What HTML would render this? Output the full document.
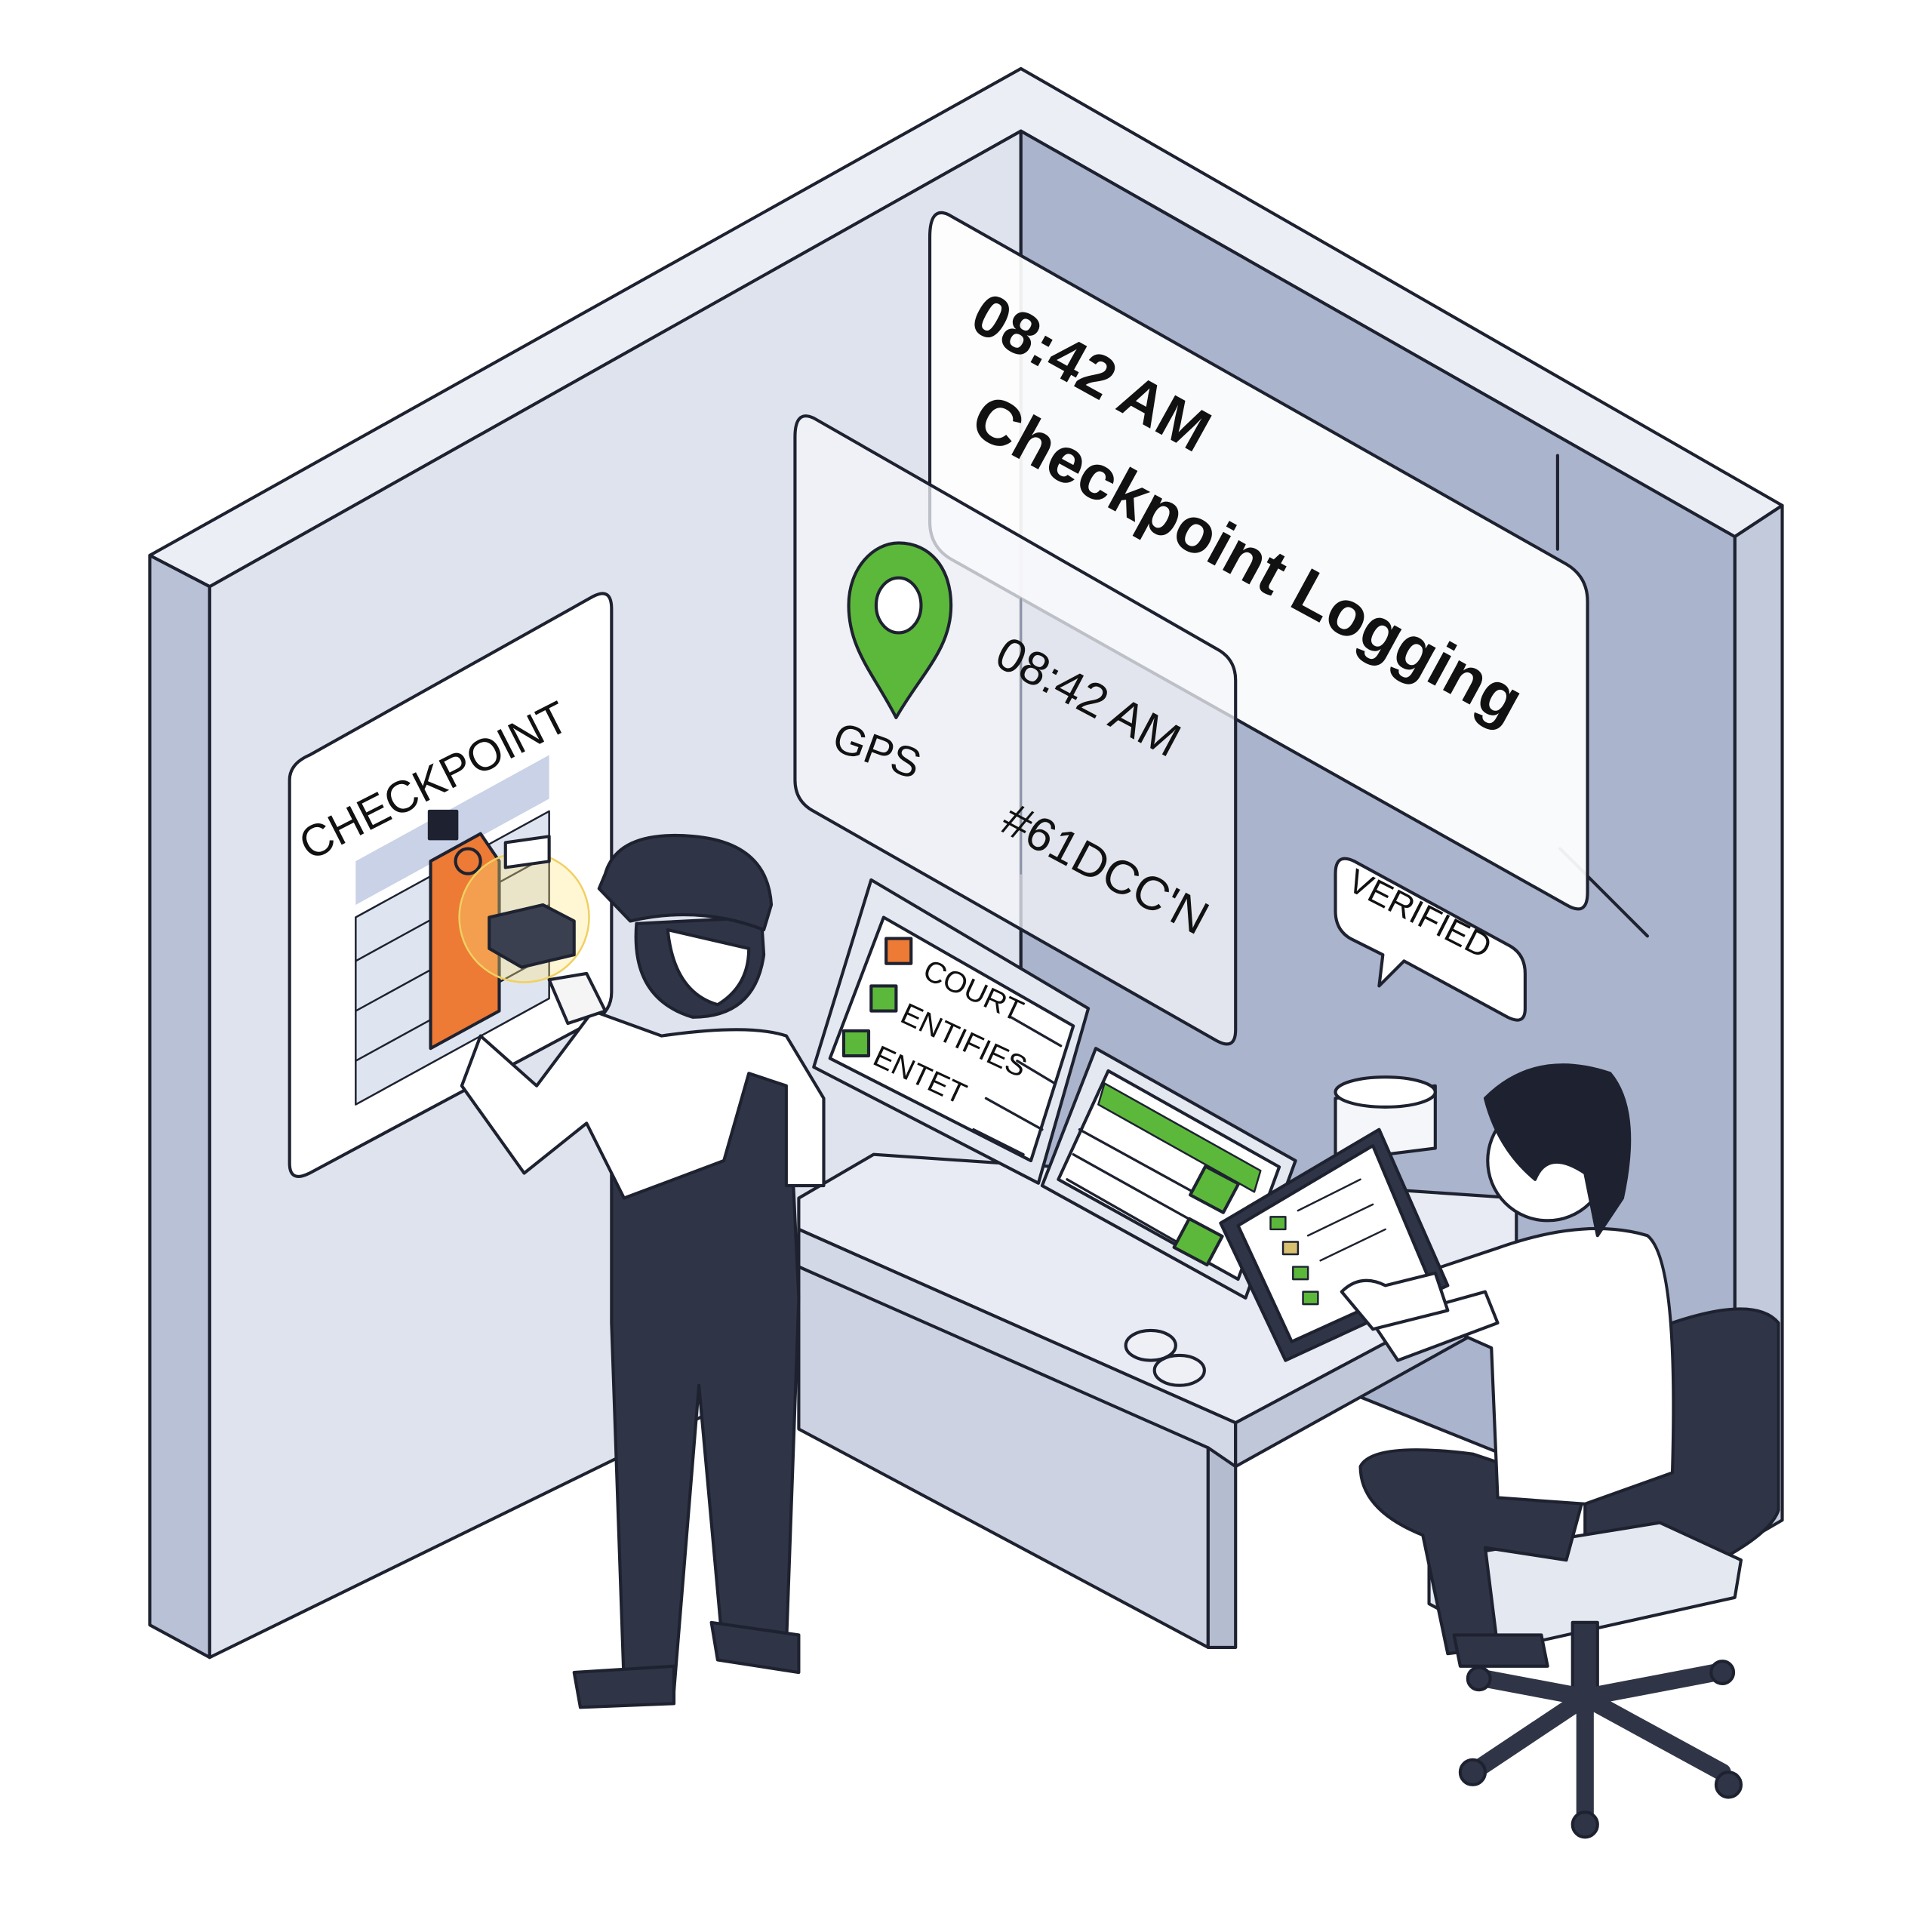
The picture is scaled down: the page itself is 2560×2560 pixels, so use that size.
<!DOCTYPE html>
<html><head><meta charset="utf-8"><style>
html,body{margin:0;padding:0;background:#fff}
svg{display:block}
text{font-family:"Liberation Sans",sans-serif}
</style></head><body>
<svg width="2560" height="2560" viewBox="0 0 1548 1548" xmlns="http://www.w3.org/2000/svg" stroke-linejoin="round" stroke-linecap="round">
<rect width="1548" height="1548" fill="#fff"/>
<g stroke="#1e2230" stroke-width="2.5">
<!-- walls -->
<polygon points="120,445 818,55 1428,405 1390,430 818,105 168,470" fill="#eceef5"/>
<polygon points="120,445 168,470 168,1328 120,1302" fill="#b9c1d6"/>
<polygon points="1428,405 1428,1218 1390,1240 1390,430" fill="#c3cadc"/>
<polygon points="168,470 818,105 818,1010 168,1328" fill="#dfe3ee"/>
<polygon points="818,105 1390,430 1390,1240 818,1010" fill="#aab4cc"/>
<line x1="1248" y1="365" x2="1248" y2="440" />
<line x1="1250" y1="680" x2="1320" y2="750"/>
<!-- big panel -->
<path d="M760,172 L1255,452 Q1272,462 1272,482 L1272,715 Q1272,735 1255,725 L762,448 Q745,438 745,418 L745,190 Q745,165 760,172 Z" fill="#fff" fill-opacity="0.93"/>
<!-- GPS panel -->
<path d="M652,335 L975,520 Q990,528 990,545 L990,825 Q990,842 975,834 L652,650 Q637,642 637,625 L637,350 Q637,328 652,335 Z" fill="#f4f6fa" fill-opacity="0.75"/>
<line x1="818" y1="480" x2="818" y2="700" stroke-width="1.5" stroke="#8892a8"/>
<!-- pin -->
<path d="M718,575 C700,540 680,520 680,485 C680,455 700,435 720,435 C745,435 762,455 762,485 C762,520 738,540 718,575 Z" fill="#5cb83a"/>
<ellipse cx="720" cy="485" rx="18" ry="22" fill="#fff"/>
<!-- poster -->
<path d="M248,605 L475,478 Q490,470 490,488 L490,795 Q490,810 476,818 L248,940 Q232,948 232,932 L232,625 Q232,612 248,605 Z" fill="#fff"/>
<polygon points="285,690 440,605 440,640 285,725" fill="#c9d2e6" stroke="none"/>
<polygon points="285,735 440,650 440,800 285,885" fill="#dfe5f0" stroke-width="1.5"/>
<g stroke-width="1.5"><line x1="285" y1="770" x2="440" y2="685"/><line x1="285" y1="810" x2="440" y2="725"/><line x1="285" y1="850" x2="440" y2="765"/></g>
<rect x="344" y="650" width="22" height="22" fill="#1e2230"/>
<path d="M345,690 L385,668 L400,690 L400,810 L345,840 Z" fill="#ed7a35"/>
<circle cx="375" cy="690" r="10" fill="none"/>
<circle cx="420" cy="735" r="52" fill="#ffe680" fill-opacity="0.35" stroke="#f0d060" stroke-width="1.5"/>
<path d="M392,735 L435,725 L460,738 L460,765 L418,775 L392,760 Z" fill="#3a4050"/>
<rect x="405" y="732" width="35" height="20" fill="#fff" transform="skewY(-8)" />
<!-- desk -->
<polygon points="640,960 700,925 1215,960 1215,1020 990,1140 640,985" fill="#e8ebf3"/>
<polygon points="640,985 990,1140 990,1175 640,1015" fill="#d3d8e6"/>
<polygon points="990,1140 1215,1020 1215,1050 990,1175" fill="#c0c7d9"/>
<polygon points="640,1015 968,1160 968,1320 640,1145" fill="#ccd2e2"/>
<polygon points="968,1160 990,1175 990,1320 968,1320" fill="#b4bcd0"/>
<!-- monitors -->
<polygon points="698,705 872,808 832,948 652,855" fill="#e4e8f0"/>
<polygon points="708,735 860,822 826,930 665,848" fill="#fff"/>
<polygon points="878,840 1038,930 998,1040 835,950" fill="#e4e8f0"/>
<polygon points="888,858 1025,935 992,1025 848,945" fill="#fff"/>
<polygon points="885,868 1010,938 1005,955 880,885" fill="#5cb83a" stroke-width="1.5"/>
<g stroke-width="2"><line x1="865" y1="905" x2="965" y2="960"/><line x1="860" y1="925" x2="955" y2="978"/><line x1="855" y1="945" x2="948" y2="998"/></g>
<rect x="958" y="940" width="30" height="26" fill="#5cb83a" transform="rotate(28 973 953)"/>
<rect x="945" y="982" width="30" height="26" fill="#5cb83a" transform="rotate(28 960 995)"/>
<rect x="710" y="752" width="20" height="20" fill="#ed7a35"/>
<rect x="698" y="790" width="20" height="20" fill="#5cb83a"/>
<rect x="676" y="826" width="20" height="20" fill="#5cb83a"/>
<g stroke-width="2"><line x1="810" y1="815" x2="850" y2="838"/><line x1="815" y1="850" x2="845" y2="868"/><line x1="790" y1="880" x2="835" y2="905"/><line x1="780" y1="905" x2="820" y2="925"/></g>
<ellipse cx="922" cy="1078" rx="20" ry="12" fill="#eef0f6"/>
<ellipse cx="945" cy="1098" rx="20" ry="12" fill="#eef0f6"/>
<!-- cup -->
<path d="M1070,880 L1150,870 L1150,920 L1070,930 Z" fill="#f5f6fa"/>
<ellipse cx="1110" cy="875" rx="40" ry="12" fill="#fff"/>
<!-- verified bubble -->
<path d="M1085,690 L1210,758 Q1222,765 1222,780 L1222,808 Q1222,822 1208,815 L1125,770 L1105,790 L1108,765 L1082,752 Q1070,745 1070,730 L1070,700 Q1070,683 1085,690 Z" fill="#fff"/>
<!-- left worker -->
<path d="M490,950 L490,1060 L500,1350 L540,1355 L560,1110 L580,1330 L630,1320 L640,1040 L630,830 L540,840 L490,870 Z" fill="#2f3546"/>
<path d="M460,1340 L540,1335 L540,1365 L465,1368 Z" fill="#2f3546"/>
<path d="M570,1300 L640,1310 L640,1340 L575,1330 Z" fill="#2f3546"/>
<path d="M530,830 Q600,820 630,830 L660,880 L660,950 L630,950 L630,870 L600,860 L580,930 L500,960 L470,900 L420,940 L370,870 L385,830 L430,870 L475,810 Z" fill="#fff"/>
<path d="M440,785 L470,780 L485,810 L455,820 Z" fill="#f5f5f5"/>
<path d="M510,740 Q505,800 555,815 Q605,815 612,765 L610,735 Z" fill="#2f3546"/>
<path d="M535,745 Q540,795 575,805 Q600,790 600,760 Z" fill="#fff"/>
<path d="M485,700 Q495,665 555,670 Q615,675 618,725 L612,745 Q560,725 505,738 L480,712 Z" fill="#2f3546"/>
<!-- chair -->
<path d="M1290,1080 Q1400,1030 1425,1060 L1425,1210 Q1415,1240 1310,1280 Q1270,1290 1270,1260 L1270,1110 Q1272,1088 1290,1080 Z" fill="#2f3546"/>
<path d="M1145,1250 L1330,1220 L1395,1250 L1390,1280 L1210,1320 L1145,1285 Z" fill="#e4e8f0"/>
<rect x="1260" y="1300" width="20" height="60" fill="#2f3546"/>
<g stroke-width="14" stroke="#2f3546"><line x1="1270" y1="1360" x2="1180" y2="1420"/><line x1="1270" y1="1360" x2="1380" y2="1420"/><line x1="1270" y1="1360" x2="1270" y2="1460"/><line x1="1270" y1="1360" x2="1190" y2="1345"/><line x1="1270" y1="1360" x2="1375" y2="1340"/></g>
<g fill="#2f3546"><circle cx="1180" cy="1420" r="10"/><circle cx="1385" cy="1430" r="10"/><circle cx="1270" cy="1462" r="10"/><circle cx="1185" cy="1345" r="9"/><circle cx="1380" cy="1340" r="9"/></g>
<!-- right worker -->
<path d="M1090,1175 Q1100,1155 1180,1165 L1270,1195 L1255,1250 L1190,1240 L1200,1320 L1160,1325 L1140,1230 Q1090,1210 1090,1175 Z" fill="#2f3546"/>
<path d="M1165,1310 L1235,1310 L1240,1335 L1170,1335 Z" fill="#2f3546"/>
<path d="M1200,1000 Q1270,975 1320,990 Q1345,1010 1340,1180 L1270,1205 L1200,1200 L1195,1080 L1150,1060 L1140,1020 Z" fill="#fff"/>
<path d="M1100,1060 L1190,1035 L1200,1060 L1120,1090 Z" fill="#fff"/>
<circle cx="1240" cy="930" r="48" fill="#fff"/>
<path d="M1190,880 Q1230,840 1290,860 Q1315,890 1300,960 L1280,990 L1270,940 Q1240,920 1230,945 Q1200,920 1190,880 Z" fill="#1e2230"/>
<!-- tablet -->
<polygon points="978,980 1105,905 1160,1030 1030,1090" fill="#2f3546"/>
<polygon points="992,982 1100,918 1145,1025 1035,1075" fill="#fff"/>
<g stroke-width="1.5"><rect x="1018" y="975" width="12" height="10" fill="#5cb83a"/><rect x="1028" y="995" width="12" height="10" fill="#d8c070"/><rect x="1036" y="1015" width="12" height="10" fill="#5cb83a"/><rect x="1044" y="1035" width="12" height="10" fill="#5cb83a"/>
<line x1="1040" y1="970" x2="1090" y2="945"/><line x1="1048" y1="990" x2="1100" y2="965"/><line x1="1058" y1="1010" x2="1110" y2="985"/></g>
<path d="M1075,1035 Q1090,1020 1110,1030 L1150,1020 L1160,1050 L1100,1065 Z" fill="#fff"/>
</g>
<!-- texts -->
<g fill="#111">
<text transform="translate(775,262) rotate(29)" font-size="48" font-weight="bold">08:42 AM</text>
<text transform="translate(775,345) rotate(28.6)" font-size="51" font-weight="bold">Checkpoint Logging</text>
<text transform="translate(665,600) rotate(20)" font-size="34">GPS</text>
<text transform="translate(795,532) rotate(28)" font-size="38">08:42 AM</text>
<text transform="translate(800,665) rotate(28)" font-size="38">#61DCC'N</text>
<text transform="translate(248,690) rotate(-27)" font-size="36">CHECKPOINT</text>
<text transform="translate(1078,712) rotate(27)" font-size="27">VERIFIED</text>
<text transform="translate(738,783) rotate(25)" font-size="24">COURT</text>
<text transform="translate(720,818) rotate(25)" font-size="24">ENTIFIES</text>
<text transform="translate(698,852) rotate(25)" font-size="24">ENTET</text>
</g>
</svg>
</body></html>
